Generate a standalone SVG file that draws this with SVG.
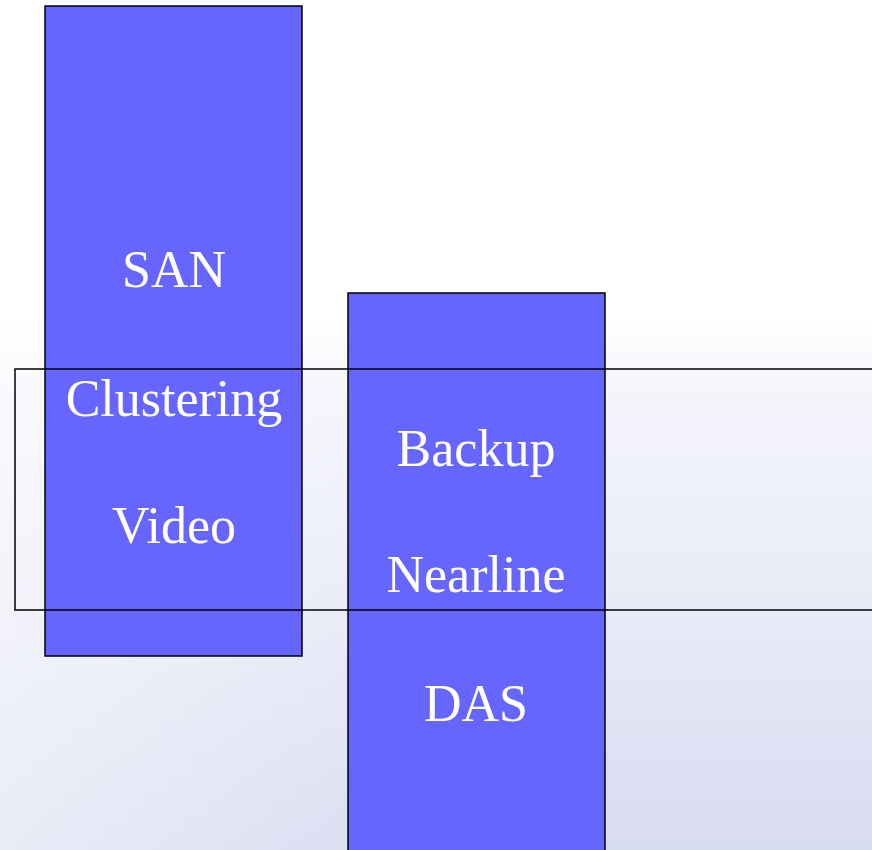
<svg xmlns="http://www.w3.org/2000/svg" width="872" height="850" viewBox="0 0 872 850">
<defs>
<linearGradient id="bg" gradientUnits="userSpaceOnUse" x1="0" y1="320" x2="0" y2="850">
<stop offset="0" stop-color="#ffffff"/>
<stop offset="0.12" stop-color="#f5f6fc"/>
<stop offset="0.55" stop-color="#e8eaf7"/>
<stop offset="1" stop-color="#d8dcf1"/>
</linearGradient>
<linearGradient id="side" x1="0" y1="0" x2="1" y2="0">
<stop offset="0" stop-color="#ffffff" stop-opacity="0.45"/>
<stop offset="0.5" stop-color="#ffffff" stop-opacity="0"/>
<stop offset="1" stop-color="#ffffff" stop-opacity="0"/>
</linearGradient>
</defs>
<style>
.box{fill:#6666ff;stroke:#000;stroke-width:1.5}
.lbl{font-family:"Liberation Serif","Times New Roman",serif;font-size:52px;fill:#fff;text-anchor:middle}
</style>
<rect x="0" y="0" width="872" height="850" fill="url(#bg)"/>
<rect x="0" y="0" width="872" height="850" fill="url(#side)"/>
<g id="san">
<rect class="box" x="45" y="6" width="257" height="650"/>
<text class="lbl" x="174" y="287">SAN</text>
<text class="lbl" x="174" y="416">Clustering</text>
<text class="lbl" x="174" y="543">Video</text>
</g>
<g id="das">
<rect class="box" x="348" y="293" width="257" height="570"/>
<text class="lbl" x="476" y="466">Backup</text>
<text class="lbl" x="476" y="592">Nearline</text>
<text class="lbl" x="476" y="721">DAS</text>
</g>
<g id="band">
<rect x="15" y="369" width="870" height="241" fill="none" stroke="#000" stroke-width="1.5"/>
</g>
</svg>
